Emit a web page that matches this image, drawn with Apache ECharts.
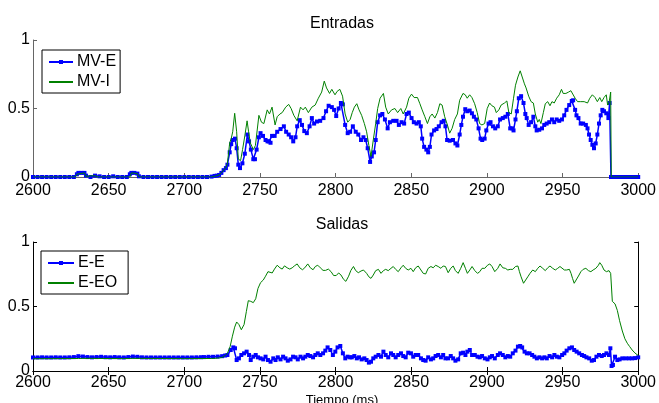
<!DOCTYPE html>
<html>
<head>
<meta charset="utf-8">
<script src="https://cdn.jsdelivr.net/npm/echarts@6/dist/echarts.min.js"></script>
<style>
  html, body { margin: 0; padding: 0; background: #fff; }
  #chart { width: 659px; height: 403px; }
</style>
</head>
<body>
<div id="chart"></div>
<script>
// Time axis ticks (ms) and value ticks
const timeTicks = [2600, 2650, 2700, 2750, 2800, 2850, 2900, 2950, 3000];
const valueTicks = [0, 0.5, 1];

// Entradas: MV-E  [time ms, value]
const mvE = [
  [2600,0],[2603,0],[2606,0],[2609,0],[2612,0],[2615,0],[2618,0],[2621,0],[2624,0],[2627,0],
  [2629,0.02],[2630,0.03],[2632,0.03],[2634,0.03],[2635,0.01],[2638,0],[2641,0.01],[2644,0.005],
  [2647,0],[2650,0],[2653,0.005],[2656,0],[2659,0],[2662,0],[2664,0.02],[2665,0.03],[2667,0.03],
  [2669,0.025],[2670,0.005],[2673,0],[2676,0],[2679,0],[2682,0],[2685,0],[2688,0],[2691,0],
  [2694,0],[2697,0],[2700,0],[2703,0],[2706,0],[2709,0],[2712,0],[2715,0],[2718,0.003],[2720,0.008],
  [2721.5,0.01],[2723,0.015],[2724.5,0.03],[2726,0.05],[2727.5,0.065],[2728.5,0.09],[2730,0.18],
  [2731,0.24],[2732,0.27],[2733.5,0.28],[2734.6,0.21],[2735.7,0.09],[2736.8,0.065],[2738.4,0.1],
  [2740,0.17],[2741.7,0.31],[2742.8,0.26],[2744,0.2],[2745.6,0.13],[2746.7,0.13],[2747.8,0.2],
  [2749.3,0.29],[2750.4,0.32],[2752,0.3],[2753.7,0.27],[2755,0.26],[2756,0.26],[2757,0.25],
  [2758,0.3],[2759.7,0.3],[2761.4,0.33],[2763.6,0.35],[2765.8,0.37],[2767.3,0.33],[2769,0.31],
  [2770.6,0.29],[2772,0.26],[2773.5,0.29],[2774.6,0.37],[2776.3,0.415],[2777.8,0.38],[2779.3,0.335],
  [2781,0.32],[2782.8,0.37],[2784.3,0.43],[2785.8,0.39],[2787.7,0.405],[2789.8,0.41],[2792,0.43],
  [2793.7,0.48],[2795.4,0.52],[2797.5,0.51],[2799,0.49],[2800.4,0.445],[2802,0.5],[2803.5,0.54],
  [2804.8,0.53],[2806.3,0.38],[2808,0.32],[2809.6,0.33],[2811.4,0.37],[2813.3,0.33],[2815,0.31],
  [2816.8,0.27],[2818.4,0.29],[2819.9,0.27],[2821.2,0.21],[2822.8,0.11],[2823.9,0.15],[2825.4,0.18],
  [2826.5,0.27],[2827.8,0.4],[2829.4,0.45],[2830.9,0.46],[2832.6,0.42],[2834.4,0.355],[2835.9,0.4],
  [2838.1,0.41],[2840.3,0.41],[2841.8,0.38],[2843.6,0.4],[2845.3,0.39],[2846.9,0.46],[2848.4,0.47],
  [2850.2,0.43],[2851.7,0.4],[2853.5,0.39],[2855,0.4],[2856.3,0.37],[2857.2,0.28],[2858.5,0.22],
  [2860,0.2],[2861.2,0.18],[2862.3,0.22],[2863.4,0.31],[2865.1,0.34],[2866.7,0.35],[2868.2,0.37],
  [2870,0.4],[2871.5,0.41],[2872.6,0.37],[2873.7,0.27],[2875.4,0.265],[2877.6,0.27],[2879.2,0.245],
  [2880.5,0.23],[2882,0.31],[2883.1,0.38],[2884.2,0.44],[2885.7,0.495],[2887,0.48],[2888.6,0.485],
  [2890.1,0.465],[2891.4,0.44],[2893,0.42],[2894.5,0.355],[2895.8,0.28],[2896.9,0.27],[2898.5,0.28],
  [2899.6,0.34],[2901.1,0.39],[2902.4,0.4],[2904,0.37],[2905.5,0.355],[2907.2,0.37],[2908.7,0.42],
  [2910.5,0.43],[2912.2,0.44],[2913.8,0.46],[2915.4,0.355],[2916.7,0.355],[2917.6,0.34],[2918.9,0.42],
  [2919.8,0.48],[2921.1,0.575],[2922.6,0.59],[2924.2,0.54],[2925.4,0.46],[2926.3,0.43],[2927.6,0.38],
  [2929.2,0.4],[2930.7,0.44],[2932,0.37],[2932.9,0.34],[2934.6,0.345],[2936.4,0.355],[2937.9,0.38],
  [2939.5,0.39],[2941.2,0.4],[2943,0.42],[2944.5,0.4],[2946.1,0.42],[2947.8,0.41],[2949.6,0.42],
  [2951.1,0.45],[2952.6,0.49],[2954.4,0.525],[2956.1,0.555],[2957,0.56],[2958.3,0.49],[2959.2,0.45],
  [2960.5,0.43],[2962,0.39],[2963.6,0.39],[2965.4,0.38],[2966.5,0.355],[2967.5,0.31],[2968.6,0.27],
  [2969.7,0.235],[2970.8,0.21],[2971.9,0.245],[2973,0.31],[2974.1,0.39],[2975.2,0.45],[2976.3,0.49],
  [2977.4,0.48],[2978.9,0.465],[2980.3,0.43],[2981.1,0.54],[2982,0],[2984,0],[2986,0],[2988,0],
  [2990,0],[2992,0],[2994,0],[2996,0],[2998,0],[3000,0]
];

// Entradas: MV-I
const mvI = [
  [2600,0],[2628,0],[2629,0.02],[2630,0.03],[2634,0.03],[2635,0.005],[2641,0.01],[2643,0],
  [2664,0],[2665,0.03],[2669,0.025],[2670,0],[2718,0],[2720,0.005],
  [2721.5,0.01],[2723,0.015],[2724.5,0.03],[2726,0.05],[2727.5,0.07],[2728.5,0.1],[2730,0.25],
  [2731,0.28],[2732,0.33],[2733.3,0.465],[2734.6,0.33],[2735.7,0.13],[2737.2,0.12],[2738.5,0.2],
  [2740,0.3],[2741.5,0.41],[2742.5,0.33],[2743.6,0.25],[2745.6,0.2],[2747,0.23],[2749.3,0.45],
  [2751,0.4],[2752.6,0.39],[2754.8,0.49],[2756.3,0.46],[2758,0.51],[2760,0.38],[2761.4,0.44],
  [2763.2,0.46],[2764.7,0.47],[2767,0.51],[2769,0.53],[2770.6,0.5],[2772.4,0.45],[2774.6,0.41],
  [2776.8,0.51],[2778.5,0.49],[2780,0.51],[2782,0.47],[2784.3,0.51],[2786.5,0.525],[2788.6,0.575],
  [2790.8,0.62],[2792.5,0.7],[2794,0.65],[2796,0.61],[2797.5,0.64],[2799.6,0.6],[2801,0.625],
  [2802.8,0.64],[2804.6,0.59],[2806.3,0.46],[2808,0.4],[2809.6,0.42],[2811,0.47],[2812.4,0.51],
  [2814,0.535],[2815.5,0.49],[2817.2,0.45],[2819,0.39],[2820.5,0.33],[2822,0.23],[2823.4,0.15],
  [2824.9,0.27],[2826.5,0.39],[2827.8,0.5],[2829.4,0.575],[2831.6,0.61],[2833.1,0.51],[2834.8,0.46],
  [2837,0.49],[2839.2,0.5],[2841,0.47],[2843.1,0.5],[2844.7,0.46],[2846.9,0.51],[2848.4,0.575],
  [2850.2,0.605],[2851.9,0.58],[2854.1,0.58],[2855.7,0.535],[2857.2,0.49],[2859,0.44],[2860.7,0.39],
  [2862.3,0.44],[2863.8,0.46],[2865.6,0.43],[2867.3,0.47],[2868.9,0.535],[2870.4,0.525],[2872.1,0.44],
  [2873.9,0.38],[2875.4,0.32],[2877,0.355],[2878.7,0.42],[2880.5,0.46],[2882,0.56],[2884.2,0.61],
  [2885.7,0.6],[2887,0.575],[2888.6,0.6],[2890.1,0.58],[2891.9,0.535],[2893.6,0.47],[2895.2,0.39],
  [2896.7,0.38],[2898.5,0.39],[2900.2,0.5],[2901.8,0.54],[2903.3,0.52],[2905,0.51],[2906.2,0.47],
  [2907.9,0.49],[2909.4,0.525],[2911.6,0.54],[2913.2,0.555],[2914.5,0.47],[2916.1,0.46],[2917.6,0.575],
  [2918.9,0.67],[2920.5,0.73],[2922,0.775],[2923.3,0.77],[2924.8,0.68],[2925.9,0.65],[2927.6,0.59],
  [2929.2,0.55],[2930.7,0.54],[2932,0.46],[2933.6,0.4],[2934.6,0.42],[2935.7,0.39],[2937.3,0.47],
  [2938.6,0.535],[2940.2,0.55],[2941.7,0.52],[2943,0.55],[2944.5,0.54],[2946.1,0.575],[2947.8,0.6],
  [2949.3,0.64],[2950.4,0.61],[2952.2,0.61],[2954,0.62],[2955.5,0.63],[2956.6,0.62],[2958.3,0.575],
  [2959.9,0.55],[2962,0.55],[2964.3,0.55],[2966.5,0.54],[2968,0.575],[2969.7,0.6],[2971.5,0.58],
  [2973,0.55],[2974.6,0.58],[2975.9,0.55],[2977.4,0.58],[2978.9,0.6],[2979.8,0.525],[2980.7,0.54],
  [2981.8,0.62],[2982.2,0],[3000,0]
];

// Salidas: E-E
const eE = [
  [2600,0.105],[2603,0.105],[2606,0.106],[2609,0.105],[2612,0.105],[2615,0.106],[2618,0.105],
  [2621,0.105],[2624,0.106],[2627,0.108],[2630,0.115],[2633,0.112],[2636,0.108],[2639,0.106],
  [2642,0.108],[2645,0.11],[2648,0.107],[2651,0.106],[2654,0.108],[2657,0.106],[2660,0.105],
  [2663,0.108],[2666,0.112],[2669,0.11],[2672,0.106],[2675,0.105],[2678,0.105],[2681,0.105],
  [2684,0.105],[2687,0.105],[2690,0.105],[2693,0.105],[2696,0.105],[2699,0.105],[2702,0.105],
  [2705,0.105],[2708,0.106],[2711,0.107],[2713,0.108],[2716,0.11],[2719,0.11],[2722,0.112],
  [2725,0.115],[2727,0.12],[2728.5,0.124],[2730.7,0.163],[2732.4,0.183],[2733.5,0.176],[2734.6,0.085],
  [2736.1,0.098],[2737.7,0.124],[2739.5,0.137],[2741.2,0.15],[2742.8,0.124],[2743.9,0.085],[2745.6,0.111],
  [2747.2,0.124],[2748.7,0.106],[2750.4,0.098],[2752.2,0.09],[2753.7,0.111],[2755.3,0.085],[2757,0.072],
  [2758.8,0.098],[2760.3,0.085],[2761.8,0.106],[2763.6,0.09],[2765.3,0.111],[2766.9,0.098],[2768.4,0.08],
  [2770.2,0.09],[2771.9,0.111],[2773.5,0.106],[2775,0.09],[2776.8,0.111],[2778.5,0.098],[2780,0.111],
  [2781.6,0.124],[2783.3,0.116],[2785.1,0.106],[2786.6,0.124],[2788.2,0.137],[2789.9,0.124],[2791.7,0.137],
  [2793.2,0.158],[2794.7,0.183],[2796.5,0.163],[2798.2,0.124],[2799.8,0.15],[2801.3,0.183],[2803.1,0.194],
  [2804.8,0.137],[2806.4,0.098],[2807.9,0.111],[2809.6,0.106],[2810.7,0.106],[2812.4,0.116],[2814,0.098],
  [2815.5,0.106],[2817.2,0.09],[2819,0.098],[2820.5,0.085],[2822,0.065],[2823.4,0.072],[2824.9,0.098],
  [2826.5,0.111],[2828.3,0.124],[2830,0.111],[2831.6,0.15],[2833.1,0.124],[2834.8,0.106],[2836.6,0.137],
  [2838.1,0.124],[2839.7,0.106],[2841.4,0.124],[2843.2,0.137],[2844.7,0.116],[2846.3,0.106],[2848,0.142],
  [2849.8,0.137],[2851.3,0.111],[2852.9,0.124],[2854.6,0.124],[2856.4,0.098],[2857.9,0.085],[2859.5,0.08],
  [2861.2,0.106],[2863,0.09],[2864.5,0.098],[2866.1,0.116],[2867.8,0.124],[2869.6,0.106],[2871.1,0.124],
  [2872.6,0.098],[2874.4,0.098],[2876.1,0.116],[2877.7,0.098],[2879.2,0.08],[2881,0.09],[2882.7,0.137],
  [2884.3,0.142],[2885.8,0.124],[2887.1,0.15],[2888.7,0.163],[2890.2,0.124],[2892,0.124],[2893.8,0.111],
  [2895.3,0.106],[2896.8,0.116],[2898.6,0.098],[2900.4,0.09],[2901.9,0.106],[2903.4,0.116],[2905.2,0.098],
  [2907.2,0.124],[2908.7,0.137],[2910.5,0.124],[2912.2,0.106],[2913.8,0.116],[2915.4,0.111],[2917.1,0.137],
  [2918.9,0.158],[2920.5,0.189],[2922,0.194],[2923.3,0.183],[2924.9,0.15],[2926.4,0.137],[2928.2,0.137],
  [2929.9,0.124],[2931.4,0.111],[2933,0.098],[2934.7,0.106],[2936.5,0.098],[2938,0.106],[2939.6,0.098],
  [2941.4,0.116],[2943.1,0.106],[2944.6,0.124],[2946.2,0.111],[2947.9,0.106],[2949.7,0.124],[2951.2,0.137],
  [2952.7,0.158],[2954.5,0.176],[2956.2,0.183],[2957.7,0.163],[2959.3,0.15],[2961,0.137],[2962.8,0.124],
  [2964.3,0.116],[2965.8,0.106],[2967.6,0.098],[2969.3,0.08],[2970.8,0.085],[2972.4,0.111],[2974.1,0.124],
  [2975.9,0.116],[2977.4,0.124],[2979,0.137],[2980.7,0.124],[2981.6,0.176],[2982.4,0.039],[2983.3,0.047],
  [2984.7,0.111],[2986.2,0.085],[2987.7,0.09],[2989.5,0.098],[2991.7,0.098],[2993.9,0.098],[2996,0.098],
  [2998,0.1],[3000,0.106]
];

// Salidas: E-EO
const eEO = [
  [2600,0.095],[2630,0.097],[2633,0.098],[2660,0.096],[2666,0.098],[2700,0.096],[2718,0.097],
  [2722,0.1],[2725,0.105],[2727,0.12],[2728.5,0.137],[2730.3,0.19],[2731.8,0.27],[2733.3,0.34],
  [2734.6,0.38],[2736.1,0.36],[2737.7,0.32],[2739.5,0.36],[2741,0.46],[2742.3,0.545],[2743.9,0.54],
  [2745.6,0.53],[2747.2,0.56],[2748.7,0.64],[2750.4,0.685],[2752.2,0.705],[2753.7,0.735],[2755.3,0.77],
  [2756.6,0.77],[2758.1,0.76],[2759.6,0.79],[2761.4,0.82],[2763.2,0.8],[2764.7,0.79],[2766.2,0.815],
  [2768,0.8],[2769.7,0.79],[2771.3,0.8],[2772.8,0.815],[2774.6,0.83],[2776.3,0.8],[2778.1,0.785],
  [2779.6,0.8],[2781.6,0.83],[2783.3,0.8],[2785.1,0.785],[2786.6,0.81],[2788.2,0.82],[2789.9,0.8],
  [2791.7,0.78],[2793.4,0.78],[2795.2,0.79],[2797,0.77],[2798.7,0.74],[2800.4,0.74],[2802,0.76],
  [2803.5,0.745],[2805.3,0.71],[2806.8,0.695],[2808.6,0.735],[2810.1,0.78],[2811.8,0.81],[2813.3,0.778],
  [2815,0.762],[2816.8,0.775],[2818.4,0.783],[2820.5,0.757],[2822,0.73],[2823.4,0.718],[2824.9,0.744],
  [2826.5,0.778],[2828.3,0.788],[2830,0.757],[2831.6,0.778],[2833.1,0.788],[2834.8,0.778],[2836.6,0.796],
  [2838.1,0.81],[2839.7,0.788],[2841.4,0.77],[2843.2,0.8],[2844.7,0.82],[2846.3,0.796],[2848,0.783],
  [2849.8,0.796],[2851.3,0.77],[2852.9,0.8],[2854.6,0.814],[2856.4,0.783],[2857.9,0.757],[2859.5,0.752],
  [2861.2,0.796],[2863,0.81],[2864.5,0.8],[2866.1,0.82],[2867.8,0.81],[2869.6,0.796],[2871.1,0.814],
  [2872.6,0.81],[2874.4,0.762],[2876.1,0.796],[2877.7,0.814],[2879.2,0.778],[2881,0.757],[2882.7,0.796],
  [2884.3,0.84],[2885.8,0.796],[2887.1,0.757],[2888.7,0.783],[2890.2,0.81],[2892,0.778],[2893.8,0.757],
  [2895.3,0.77],[2896.8,0.796],[2898.6,0.796],[2900.4,0.82],[2901.9,0.83],[2903.4,0.81],[2905.2,0.77],
  [2907.2,0.796],[2908.7,0.83],[2910.5,0.8],[2912.2,0.796],[2913.8,0.783],[2915.4,0.788],[2917.1,0.788],
  [2918.9,0.81],[2920.5,0.814],[2921.5,0.77],[2922.6,0.73],[2924.2,0.68],[2925.4,0.69],[2927,0.73],
  [2928.5,0.757],[2930.3,0.783],[2932,0.77],[2933.6,0.796],[2935.1,0.814],[2936.9,0.796],[2938.6,0.778],
  [2940.2,0.8],[2941.7,0.814],[2943.5,0.796],[2945.2,0.783],[2946.8,0.796],[2948.3,0.81],[2949.6,0.8],
  [2951.2,0.783],[2952.7,0.783],[2954.5,0.788],[2955.6,0.757],[2956.6,0.718],[2957.7,0.68],[2958.8,0.69],
  [2960.5,0.736],[2962.1,0.77],[2963.6,0.788],[2965.4,0.796],[2967.1,0.778],[2968.7,0.77],[2970.2,0.783],
  [2972,0.796],[2973.7,0.82],[2974.6,0.84],[2975.9,0.82],[2977.4,0.783],[2979,0.77],[2980.7,0.778],
  [2981.8,0.757],[2982.9,0.54],[2984.7,0.52],[2986.2,0.47],[2987.7,0.39],[2989.5,0.31],[2991.2,0.25],
  [2992.8,0.215],[2994.3,0.19],[2996,0.163],[2997.8,0.14],[3000,0.12]
];

const FONT = 'Liberation Sans, Arial, sans-serif';
const BLUE = '#0000ff';
const GREEN = '#008000';

const valueFmt = v => (v === 0.5 ? '0.5' : String(v));
const timeFmt = v => String(v);

function timeAxis(gridIndex, color, margin, opts) {
  return Object.assign({
    type: 'value', gridIndex: gridIndex,
    min: timeTicks[0], max: timeTicks[timeTicks.length - 1], interval: 50,
    axisLine: { show: true, lineStyle: { color: color, width: 1 } },
    axisTick: { show: true, inside: true, length: 4, lineStyle: { color: color } },
    axisLabel: { show: true, color: '#000', fontFamily: FONT, fontSize: 16, margin: margin, formatter: timeFmt },
    splitLine: { show: false }
  }, opts || {});
}
function valueAxis(gridIndex, color, opts) {
  return Object.assign({
    type: 'value', gridIndex: gridIndex,
    min: valueTicks[0], max: valueTicks[valueTicks.length - 1], interval: 0.5,
    axisLine: { show: true, lineStyle: { color: color, width: 1 } },
    axisTick: { show: true, inside: true, length: 4, lineStyle: { color: color } },
    axisLabel: { show: true, color: '#000', fontFamily: FONT, fontSize: 16, margin: 3, formatter: valueFmt },
    splitLine: { show: false }
  }, opts || {});
}

function markedLine(name, data, xi, yi) {
  return {
    name: name, type: 'line', data: data, xAxisIndex: xi, yAxisIndex: yi,
    symbol: 'rect', symbolSize: 4, showSymbol: true,
    lineStyle: { color: BLUE, width: 1.5 }, itemStyle: { color: BLUE },
    z: 2, animation: false
  };
}
function plainLine(name, data, xi, yi) {
  return {
    name: name, type: 'line', data: data, xAxisIndex: xi, yAxisIndex: yi,
    symbol: 'none', showSymbol: false,
    lineStyle: { color: GREEN, width: 1 }, itemStyle: { color: GREEN },
    z: 3, animation: false
  };
}

function legendBox(names, left, top, padRight, iconWidth) {
  return {
    data: [
      { name: names[0] },
      { name: names[1], itemStyle: { opacity: 0 } }
    ],
    orient: 'vertical', left: left, top: top,
    padding: [4, padRight, 3, 6], itemGap: 4, itemWidth: iconWidth, itemHeight: 5,
    backgroundColor: '#fff', borderColor: '#000', borderWidth: 1, borderRadius: 0,
    textStyle: { fontFamily: FONT, fontSize: 16, color: '#000', padding: [0, 0, 0, -1] }
  };
}

const chart = echarts.init(document.getElementById('chart'), null, { renderer: 'canvas' });
chart.setOption({
  animation: false,
  backgroundColor: '#fff',
  title: [
    { text: 'Entradas', left: 337, top: 11, textAlign: 'center',
      textStyle: { fontFamily: FONT, fontSize: 16, fontWeight: 'normal', color: '#000' } },
    { text: 'Salidas', left: 337, top: 212, textAlign: 'center',
      textStyle: { fontFamily: FONT, fontSize: 16, fontWeight: 'normal', color: '#000' } },
    { text: 'Tiempo (ms)', left: 337, top: 389, textAlign: 'center',
      textStyle: { fontFamily: FONT, fontSize: 13, fontWeight: 'normal', color: '#000' } }
  ],
  grid: [
    { left: 33, right: 18, top: 40, height: 137, containLabel: false },
    { left: 33, right: 18, top: 242, height: 129, containLabel: false }
  ],
  xAxis: [
    timeAxis(0, '#666', 6),
    timeAxis(1, '#000', 4),
    timeAxis(1, '#000', 4, { position: 'top', axisLabel: { show: false } })
  ],
  yAxis: [
    valueAxis(0, '#666'),
    valueAxis(1, '#000'),
    valueAxis(1, '#000', { position: 'right', axisLabel: { show: false } })
  ],
  legend: [
    legendBox(['MV-E', 'MV-I'], 42, 50, 4, 24),
    legendBox(['E-E', 'E-EO'], 41, 251, 11, 26)
  ],
  series: [
    markedLine('MV-E', mvE, 0, 0),
    plainLine('MV-I', mvI, 0, 0),
    markedLine('E-E', eE, 1, 1),
    plainLine('E-EO', eEO, 1, 1)
  ]
});
</script>
</body>
</html>
